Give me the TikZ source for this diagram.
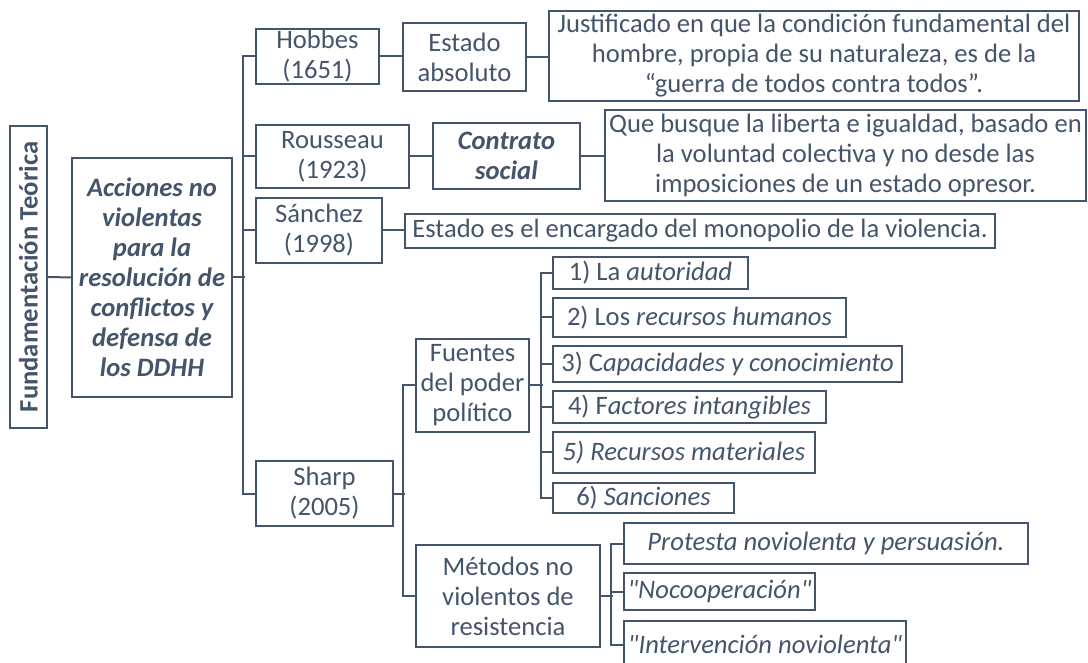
\documentclass[tikz,border=0pt]{standalone}
\usepackage{fontspec}
\setmainfont{Carlito}[Ligatures=TeXOff]
\usetikzlibrary{positioning, calc}
\definecolor{slate}{HTML}{44546A}

\begin{document}
\begin{tikzpicture}[x=0.5pt, y=-0.5pt,
  box/.style={rectangle, draw=slate, line width=1.2pt, text=slate, align=center, inner sep=0pt, font=\fontsize{13.3}{15}\selectfont},
  boldbox/.style={box, font=\fontsize{13.3}{15}\selectfont\bfseries\itshape},
  link/.style={draw=slate, line width=1pt}
]
\useasboundingbox (0,0) rectangle (1088,663);

% root and main idea
\node[box, rotate=90, minimum width=151pt, minimum height=18.5pt, font=\fontsize{13.3}{15}\selectfont\bfseries] (teoria) at (28.5,277) {Fundamentación Teórica};
\node[boldbox, minimum width=80pt, minimum height=119.5pt] (acciones) at (152,277.5) {Acciones no\\violentas\\para la\\resolución de\\conflictos y\\defensa de\\los DDHH};

% authors
\node[box, minimum width=61.5pt, minimum height=27.5pt] (hobbes) at (317.5,56.5) {Hobbes\\(1651)};
\node[box, minimum width=76.5pt, minimum height=31.5pt] (rousseau) at (332.5,156.5) {Rousseau\\(1923)};
\node[box, minimum width=63pt, minimum height=32.5pt] (sanchez) at (319,230.5) {Sánchez\\(1998)};
\node[box, minimum width=68.5pt, minimum height=32.5pt] (sharp) at (324.5,493.5) {Sharp\\(2005)};

% ideas
\node[box, minimum width=61.5pt, minimum height=34pt] (estado) at (464.5,57) {Estado\\absoluto};
\node[box, minimum width=265pt, minimum height=45pt] (justif) at (814,56) {Justificado en que la condición fundamental del\\hombre, propia de su naturaleza, es de la\\“guerra de todos contra todos”.};
\node[boldbox, minimum width=73.5pt, minimum height=33pt] (contrato) at (506.5,156) {Contrato\\social};
\node[box, minimum width=240.5pt, minimum height=45.5pt] (quebusque) at (845.5,155.5) {Que busque la liberta e igualdad, basado en\\la voluntad colectiva y no desde las\\imposiciones de un estado opresor.};
\node[box, minimum width=295pt, minimum height=17pt] (monopolio) at (700,231) {Estado es el encargado del monopolio de la violencia.};
\node[box, minimum width=56.5pt, minimum height=46.5pt] (fuentes) at (472.5,385.5) {Fuentes\\del poder\\político};
\node[box, minimum width=92pt, minimum height=51pt] (metodos) at (508,596) {Métodos no\\violentos de\\resistencia};

% sources of power
\node[box, minimum width=97.5pt, minimum height=16pt] (item1) at (650.5,273) {1) La \textit{autoridad}};
\node[box, minimum width=146.5pt, minimum height=19.5pt] (item2) at (699.5,317.5) {2) Los \textit{recursos humanos}};
\node[box, minimum width=174.5pt, minimum height=18pt] (item3) at (727.5,364) {3) C\textit{apacidades y conocimiento}};
\node[box, minimum width=136.5pt, minimum height=16pt] (item4) at (689.5,407) {4) F\textit{actores intangibles}};
\node[box, minimum width=131pt, minimum height=20.5pt] (item5) at (684,452.5) {\textit{5) Recursos materiales}};
\node[box, minimum width=90.5pt, minimum height=15pt] (item6) at (643.5,498) {6) \textit{Sanciones}};

% methods
\node[box, minimum width=202pt, minimum height=20.5pt] (m1) at (826,543.5) {\textit{Protesta noviolenta y persuasión.}};
\node[box, minimum width=95.5pt, minimum height=18.5pt] (m2) at (719.5,591.5) {\textit{"Nocooperación"}};
\node[box, minimum width=141pt, minimum height=23.5pt] (m3) at (765,644.5) {\textit{"Intervención noviolenta"}};

% connectors
\draw[link] (teoria.south) -- (acciones.west);
\draw[link] (acciones.east) -- ++(12,0);
\draw[link] (hobbes.west) -- ++(-12,0) |- (sharp.west);
\draw[link] (rousseau.west) -- ++(-12,0);
\draw[link] (sanchez.west) -- ++(-12,0);
\draw[link] (hobbes.east) -- (hobbes.east -| estado.west);
\draw[link] (estado.east) -- (estado.east -| justif.west);
\draw[link] (rousseau.east) -- (rousseau.east -| contrato.west);
\draw[link] (contrato.east) -- (contrato.east -| quebusque.west);
\draw[link] (sanchez.east) -- (sanchez.east -| monopolio.west);
\draw[link] (sharp.east) -- ++(11,0);
\draw[link] (fuentes.west) -- ++(-12,0) |- (metodos.west);
\draw[link] (fuentes.east) -- ++(13,0);
\draw[link] (item1.west) -- ++(-11,0) |- (item6.west);
\foreach \i in {2,...,5}
  \draw[link] (item\i.west) -- ++(-11,0);
\draw[link] (metodos.east) -- ++(12,0);
\draw[link] (m1.west) -- ++(-12,0) |- (m3.west);
\draw[link] (m2.west) -- ++(-12,0);
\end{tikzpicture}
\end{document}
